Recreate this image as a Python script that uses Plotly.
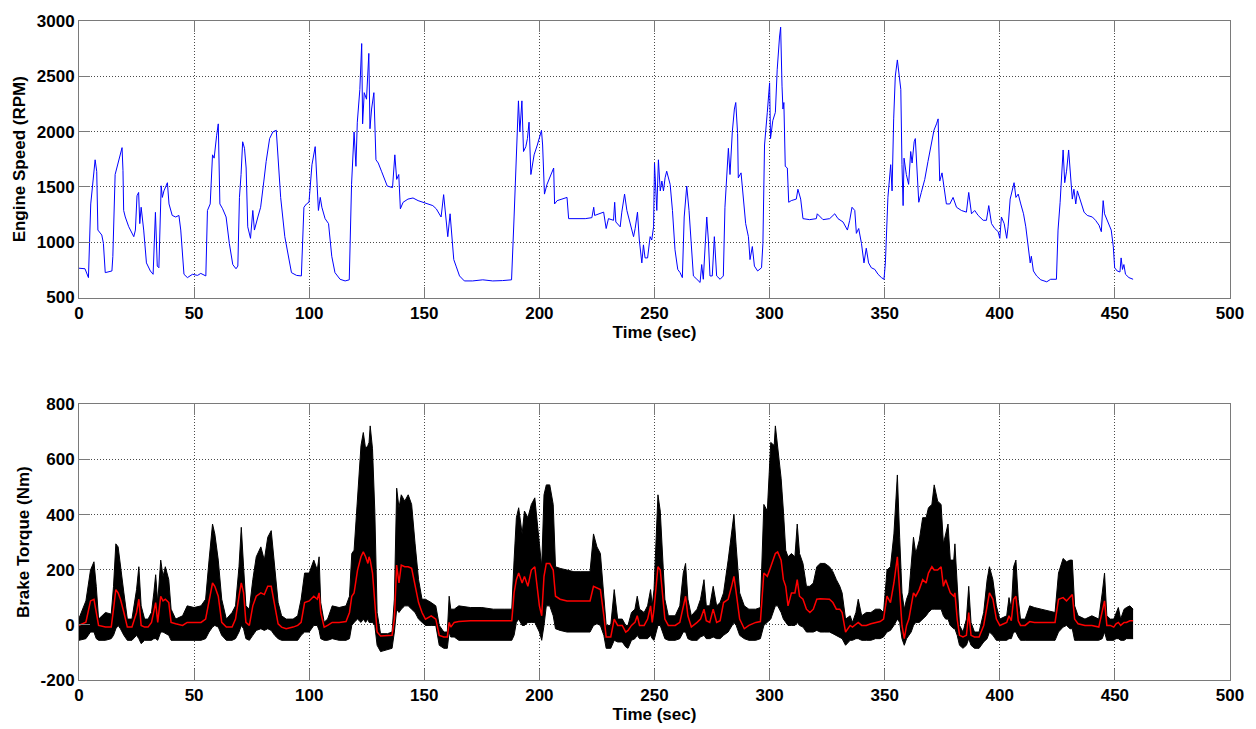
import plotly.graph_objects as go

# ---------------- Engine speed (top) ----------------
speed_t = [0, 2.6, 4.1, 5.1, 7, 7.7, 8.2, 9.9, 10.6, 11.4, 14.3, 14.7, 15.7, 17.2, 18.7, 19.1, 19.4, 20.1, 21.6, 23.8,
           24.5, 25.2, 25.9, 26.4, 27, 28.1, 29.3, 31, 32.2, 33.2, 34, 34.7, 35.7, 36.2, 36.9, 38.4, 39.1, 40.5, 42, 43.4,
           44.2, 45.6, 47.1, 49.3, 51.5, 52.9, 55.1, 55.8, 57, 58, 58.7, 59.8, 60.5, 61.2, 62.4, 63.9, 65.3, 66.8, 68.2, 69,
           69.7, 70.4, 71.1, 71.9, 72.6, 73.3, 74.5, 75.5, 76.2, 77.7, 78.9, 80.3, 81.3, 82.8, 84.2, 85.7, 86.4, 87.6, 89.4, 90.8,
           92.3, 94.5, 96.6, 97.7, 98.8, 99.9, 101.2, 102.6, 103.3, 104, 104.8, 105.5, 106.9, 108.4, 109.8, 111.2, 113.4, 115.6, 117.4, 118.4,
           119.5, 120.3, 120.9, 122, 122.8, 123.2, 123.9, 124.9, 125.9, 126.4, 127.1, 128.1, 129, 130, 131.4, 132.9, 133.9, 136.2, 137.2, 138,
           138.9, 139.6, 140.8, 142.9, 145.1, 147.3, 149.4, 151.6, 153.7, 155.2, 156.3, 157.3, 158.4, 159.2, 160.2, 161.2, 162.1, 162.8, 163.8, 165.3,
           167.4, 171, 175.4, 179.7, 184, 187.9, 189, 190.1, 190.9, 191.5, 192.4, 193.1, 194.1, 194.8, 195.5, 196.3, 197.7, 199.1, 200.9, 201.4,
           202.2, 203.3, 204.8, 206.2, 206.6, 207.7, 209.8, 212, 212.7, 215.6, 219.9, 222.8, 223.6, 224, 226.4, 227.9, 229, 230, 232.2, 232.7,
           233.2, 235.1, 235.8, 237, 238, 239.5, 240.9, 241.6, 242.6, 243.4, 244.5, 245.2, 245.9, 247, 248.1, 248.8, 249.6, 250, 251, 251.7,
           252.5, 253.2, 253.9, 254.6, 255.3, 256.8, 257.8, 258.9, 260.1, 261.1, 262.1, 262.9, 264, 265, 265.9, 266.9, 268.4, 269.8, 270.5, 271.2,
           272.7, 273.4, 274.1, 275.1, 276, 277, 278.5, 279.9, 280.6, 282.1, 282.8, 283.8, 284.7, 285.3, 286.1, 286.4, 287.6, 288.6, 289.6, 290.8,
           291.5, 292.5, 293.4, 294.8, 296.5, 297.1, 297.8, 299, 300, 300.4, 301.4, 302.5, 303.3, 304.3, 304.8, 305.4, 305.8, 306.2, 306.8, 307.7,
           308.3, 309.4, 311.6, 312.3, 313.5, 314.5, 317.4, 320.3, 320.7, 323.2, 326.1, 328.3, 329.7, 331.9, 333.8, 334.8, 335.8, 337, 337.7, 338.7,
           339.9, 341, 342, 343, 344.2, 345.7, 347.1, 348.6, 349.7, 350.3, 351.4, 352.6, 353.2, 353.9, 354.6, 355.5, 356.1, 357, 357.5, 358,
           358.4, 359.4, 360.4, 361.3, 361.9, 362.8, 363.3, 364.2, 364.8, 365.9, 367.4, 368.8, 370.3, 371.4, 372.5, 373.2, 373.9, 374.9, 375.8, 376.8,
           378.3, 379.7, 381.2, 383.3, 385.5, 386.5, 387.7, 389.1, 390.6, 392.8, 394.2, 395.2, 396.4, 397.8, 399.3, 400, 400.7, 401.9, 403, 403.6,
           404.5, 405.5, 406.2, 407, 408, 409.1, 410.3, 411.3, 412.3, 413.2, 413.7, 414.6, 416, 417.8, 420.4, 422.1, 424.6, 425.3, 426.2, 426.7,
           427.5, 428.2, 429, 429.9, 430.5, 431.5, 432.2, 433, 433.7, 435.1, 436.6, 438, 440.2, 441.6, 443.1, 444.1, 444.9, 445.5, 446.4, 447.4,
           448.4, 449.3, 449.9, 451, 452.2, 452.7, 453.3, 453.9, 454.6, 456.1, 457.9]
speed_rpm = [765, 760, 680, 1346, 1745, 1640, 1110, 1065, 990, 725, 740, 870, 1612, 1730, 1855, 1650, 1287, 1228, 1140, 1050,
             1110, 1420, 1450, 1168, 1316, 1110, 813, 740, 710, 1270, 784, 769, 1510, 1405, 1464, 1538, 1346, 1242, 1228, 1242,
             1110, 710, 680, 710, 700, 718, 695, 1287, 1346, 1790, 1760, 1967, 2070, 1346, 1302, 1228, 990, 798, 760, 784,
             1405, 1612, 1908, 1849, 1671, 1139, 1035, 1287, 1110, 1228, 1316, 1553, 1730, 1937, 1997, 2012, 1820, 1405, 1050, 873,
             725, 700, 695, 1316, 1346, 1361, 1700, 1864, 1612, 1287, 1405, 1316, 1213, 1168, 873, 725, 665, 650, 660, 1523,
             1997, 1686, 2085, 2380, 2796, 2070, 2352, 2293, 2707, 2026, 2204, 2352, 1745, 1716, 1642, 1553, 1508, 1494, 1790, 1568,
             1612, 1302, 1361, 1390, 1400, 1376, 1361, 1346, 1331, 1302, 1257, 1228, 1430, 1257, 1050, 1257, 1020, 843, 784, 695,
             650, 650, 660, 650, 653, 660, 1228, 1937, 2278, 1997, 2278, 1820, 1864, 1937, 2085, 1612, 1790, 1879, 2011, 1879,
             1435, 1523, 1597, 1671, 1346, 1376, 1390, 1405, 1213, 1213, 1213, 1222, 1316, 1242, 1257, 1272, 1124, 1213, 1198, 1361,
             1183, 1139, 1272, 1435, 1287, 1168, 1050, 1124, 1272, 1020, 813, 976, 858, 858, 1050, 1020, 1139, 1716, 1287, 1745,
             1464, 1553, 1464, 1582, 1642, 1523, 1287, 932, 754, 725, 680, 1228, 1508, 1287, 1035, 695, 665, 636, 798, 665,
             1228, 1020, 695, 695, 1050, 695, 665, 695, 1316, 1849, 1612, 1997, 2204, 2263, 1982, 1582, 1627, 1405, 1168, 1050,
             843, 961, 784, 740, 769, 990, 1879, 2174, 2441, 1937, 2100, 2174, 2559, 2855, 2944, 2411, 2204, 2263, 1686, 1671,
             1361, 1376, 1390, 1479, 1390, 1213, 1204, 1213, 1257, 1204, 1213, 1257, 1213, 1183, 1110, 1198, 1316, 1287, 1080, 1124,
             990, 813, 946, 813, 769, 754, 710, 680, 665, 813, 1405, 1701, 1464, 2115, 2500, 2648, 2530, 2382, 1701, 1331,
             1760, 1612, 1523, 1820, 1716, 1908, 1937, 1523, 1361, 1450, 1568, 1730, 1879, 2012, 2070, 2115, 1553, 1627, 1494, 1346,
             1346, 1405, 1316, 1287, 1272, 1450, 1257, 1287, 1242, 1198, 1198, 1331, 1168, 1124, 1095, 1035, 1228, 1168, 1035, 1139,
             1390, 1464, 1538, 1405, 1435, 1346, 1257, 1139, 961, 813, 873, 740, 695, 660, 642, 665, 665, 1110, 1361, 1553,
             1834, 1538, 1642, 1834, 1671, 1390, 1479, 1346, 1464, 1376, 1272, 1242, 1228, 1198, 1154, 1095, 1376, 1257, 1213, 1168,
             1110, 961, 769, 740, 731, 858, 754, 798, 710, 680, 665]

# ---------------- Brake torque (bottom) ----------------
torque_t = [0, 3, 5, 6.5, 7.5, 8.5, 11.5, 14, 15, 16, 17, 18, 19.5, 21, 23, 25, 26, 27, 28.5, 30,
            31.5, 32.5, 33.3, 34.2, 35.5, 36.5, 37.5, 39, 40, 42, 45, 47, 50, 53, 55, 56.5, 58, 59, 60.5, 62,
            64, 66.5, 68, 69.5, 70.5, 71.5, 72.5, 74, 75.5, 77, 79, 80.5, 82, 83.5, 85, 86.5, 88, 90, 93, 95,
            96.5, 98, 100, 102, 103.5, 104.3, 105, 106.5, 108, 110, 113, 116, 117.5, 118.5, 119.5, 121, 122.5, 123.5, 124.5, 125.5,
            126, 126.5, 127.5, 128.5, 129.5, 131, 134, 136, 137, 138, 139, 140, 141.5, 143, 144.5, 146, 147.5, 149, 150.5, 153,
            155, 156.5, 158.5, 160, 160.8, 161.5, 163, 165, 170, 175, 180, 185, 188, 189, 190, 191, 192.5, 193.5, 195, 196.5,
            198, 200, 201, 202, 203, 204.5, 206, 207, 209, 212, 215, 218, 222, 223.5, 225, 226.5, 228, 229, 231, 232.5,
            234, 236, 237.5, 238.5, 240, 241.5, 242.5, 243.5, 245.5, 247, 248.3, 249, 249.8, 251.5, 252.5, 253.5, 254.5, 256, 259, 261,
            262.5, 263.5, 264.5, 266, 268.5, 270, 271.5, 272.5, 274, 275.5, 277, 278.5, 280, 282, 283.5, 284.5, 285.5, 287, 289, 291,
            294, 296, 297.5, 299, 300.5, 302, 302.5, 303.5, 305, 306, 307, 308, 309.5, 311, 312, 313, 314.5, 316, 317.5, 319,
            320.5, 322, 324, 326, 327.5, 329, 330.5, 331.5, 333, 335, 336, 337.5, 338.5, 340, 342, 344, 346, 348, 349.5, 351,
            352.5, 354, 355.5, 356.5, 357.5, 358.5, 359.5, 360.5, 361.5, 362.5, 363.5, 365, 366.5, 368, 369, 370.5, 371.5, 373, 374.5, 375.5,
            376.5, 377.5, 378.5, 380, 380.5, 381.5, 382.5, 384, 385.5, 386.5, 387.5, 389, 391, 393, 394.5, 395.5, 397, 398.5, 400, 403,
            404, 405, 406, 407, 408, 409, 411, 413, 415, 418, 421, 424, 425.5, 427.5, 429, 430.5, 431.5, 432.5, 434, 437,
            440, 443, 444.5, 445.5, 446.5, 448, 449.5, 450.5, 451.5, 452.5, 454, 455, 456.5, 457.9]
torque_hi = [24, 87, 199, 229, 140, 21, 45, 39, 140, 294, 283, 211, 116, 21, 21, 128, 211, 69, 21, 21,
             45, 116, 182, 81, 235, 176, 211, 164, 57, 21, 33, 69, 63, 69, 93, 235, 366, 330, 235, 93,
             21, 45, 69, 211, 354, 211, 69, 57, 164, 247, 283, 235, 318, 342, 199, 81, 33, 21, 21, 33,
             93, 188, 188, 235, 199, 247, 81, 10, 21, 69, 63, 69, 104, 259, 271, 472, 651, 698, 639, 651,
             662, 722, 639, 413, 45, -32, -32, -26, 93, 496, 425, 472, 449, 472, 437, 294, 164, 93, 93, 81,
             69, -2, -26, -26, 104, 57, 57, 69, 63, 63, 57, 57, 57, 235, 389, 425, 330, 413, 389, 437,
             461, 294, 211, 472, 508, 508, 437, 211, 205, 199, 193, 193, 193, 330, 283, 259, 116, -2, -2, 128,
             21, 21, -2, -2, 45, 57, 104, 57, 45, 69, 128, 69, 128, 472, 413, 235, 93, 33, 33, 69,
             188, 223, 93, 33, 57, 93, 164, 69, 69, 140, 69, 81, 116, 235, 330, 401, 283, 116, 69, 57,
             57, 63, 437, 413, 662, 651, 722, 639, 532, 413, 271, 247, 259, 247, 366, 259, 223, 140, 140, 152,
             211, 223, 223, 211, 193, 164, 140, 116, 21, 33, 9, 45, 93, 33, 45, 45, 57, 57, 45, 199,
             211, 330, 544, 318, 116, 57, 93, 116, 235, 318, 259, 306, 389, 389, 425, 437, 508, 449, 437, 294,
             330, 366, 235, 235, 294, 164, -2, -26, 21, 140, 9, -26, -26, 45, 164, 211, 164, 69, 21, 33,
             99, 57, 211, 235, 93, 21, 21, 69, 63, 57, 51, 45, 188, 241, 229, 235, 235, 69, 33, 21,
             33, 21, 116, 188, 33, 21, 21, 45, 63, 21, 57, 63, 69, 57]
torque_lo = [-56, -50, -26, -26, -50, -56, -56, -50, -38, -14, -2, -14, -38, -56, -56, -38, -50, -68, -56, -56,
             -56, -50, -50, -56, -26, -26, -32, -38, -56, -56, -56, -56, -56, -56, -50, -26, -8, -2, -8, -38,
             -56, -56, -50, -26, -2, -14, -50, -56, -38, -20, -14, -20, -14, -20, -38, -50, -56, -56, -56, -56,
             -38, -26, -26, -2, -2, -20, -50, -56, -56, -50, -56, -56, -50, -2, 9, 21, 9, 21, 9, 21,
             9, 9, 9, -2, -74, -97, -91, -85, -26, 57, 45, 57, 69, 69, 57, 45, 21, 9, -2, -2,
             -2, -74, -85, -85, -26, -44, -44, -56, -56, -56, -56, -56, -56, -38, 9, 21, -2, -2, 9, 9,
             9, -26, -56, -2, 69, 69, 33, -14, -20, -26, -26, -26, -26, -2, 4, -2, -38, -85, -85, -56,
             -62, -62, -80, -85, -56, -50, -38, -50, -50, -50, -38, -50, -56, -2, -2, -26, -50, -56, -56, -50,
             -26, -26, -50, -56, -56, -44, -38, -50, -50, -44, -50, -50, -38, -26, -2, 9, -2, -38, -50, -56,
             -56, -50, -2, 9, 21, 57, 69, 69, 45, 21, 9, -2, -2, -2, 9, -2, -8, -26, -26, -26,
             -20, -26, -26, -26, -32, -38, -44, -50, -74, -56, -56, -50, -50, -56, -56, -56, -50, -50, -44, -26,
             -20, -2, 21, 9, -50, -74, -50, -38, -26, -2, 9, 9, 21, 33, 45, 57, 57, 57, 57, 33,
             21, 21, -2, -14, -14, -38, -74, -85, -74, -50, -74, -85, -85, -62, -50, -26, -38, -56, -56, -56,
             -50, -50, -26, -26, -44, -56, -56, -56, -56, -56, -56, -56, -26, -8, -2, -14, -14, -56, -56, -56,
             -56, -56, -50, -26, -56, -56, -56, -50, -50, -56, -56, -50, -50, -50]
torque_mean = [-2, 10, 87, 93, 45, -2, -8, -8, 57, 128, 116, 93, 45, -8, -8, 45, 93, -2, -8, -8,
               9, 45, 81, 9, 104, 87, 93, 81, 9, 4, -2, 9, 9, 9, 21, 93, 152, 140, 104, 9,
               -8, -8, 21, 104, 152, 116, 9, -2, 69, 104, 116, 110, 140, 140, 69, 4, -8, -14, -8, -2,
               9, 81, 87, 104, 93, 116, 45, -8, -2, 9, 9, 12, 45, 104, 116, 199, 247, 265, 247, 223,
               247, 235, 188, 69, -26, -40, -40, -38, 21, 217, 152, 217, 211, 211, 205, 140, 81, 45, 21, 33,
               21, -38, -44, -44, 9, -8, 9, 12, 15, 15, 15, 15, 15, 116, 164, 188, 152, 176, 140, 199,
               211, 69, 33, 176, 223, 223, 199, 104, 93, 87, 87, 87, 87, 140, 134, 128, 33, -44, -44, 21,
               -2, -2, -26, -20, -2, 9, 33, -2, -2, 21, 69, 9, 57, 211, 199, 93, 21, -2, -2, 9,
               69, 104, 33, -8, 9, 21, 57, 15, 9, 57, 9, 15, 81, 93, 140, 176, 116, 21, -14, -2,
               9, 12, 188, 176, 211, 247, 259, 265, 235, 164, 140, 69, 116, 116, 164, 104, 93, 57, 45, 57,
               93, 95, 95, 93, 81, 57, 57, 45, -26, -2, -8, 4, 9, -2, -2, 4, 9, 12, 21, 104,
               81, 152, 247, 116, -2, -50, -2, 21, 69, 116, 104, 128, 164, 152, 188, 211, 199, 199, 211, 140,
               164, 140, 116, 104, 116, 21, -38, -44, -38, 45, -38, -44, -44, -2, 69, 116, 93, 21, -2, 9,
               33, 15, 93, 104, 15, -2, -2, 12, 9, 9, 9, 9, 93, 99, 87, 99, 110, 21, 4, -2,
               -2, -8, 45, 87, -2, -2, -8, 4, 9, -2, 9, 9, 15, 15]

x_ticks = [0, 50, 100, 150, 200, 250, 300, 350, 400, 450, 500]
speed_ticks = [500, 1000, 1500, 2000, 2500, 3000]
torque_ticks = [-200, 0, 200, 400, 600, 800]
torque_tick_text = ["-200", "0", "200", "400", "600", "800"]

FONT = "Liberation Sans"
tick_font = dict(family=FONT, size=17, color="black", weight="bold")
title_font = dict(family=FONT, size=17, color="black", weight="bold")

fig = go.Figure()

fig.add_trace(go.Scatter(x=speed_t, y=speed_rpm, mode="lines",
                         line=dict(color="#0000FF", width=1), xaxis="x", yaxis="y",
                         showlegend=False, hoverinfo="skip"))

fig.add_trace(go.Scatter(x=torque_t, y=torque_lo, mode="lines",
                         line=dict(color="black", width=1), xaxis="x2", yaxis="y2",
                         showlegend=False, hoverinfo="skip"))
fig.add_trace(go.Scatter(x=torque_t, y=torque_hi, mode="lines", fill="tonexty",
                         fillcolor="black", line=dict(color="black", width=1),
                         xaxis="x2", yaxis="y2", showlegend=False, hoverinfo="skip"))
fig.add_trace(go.Scatter(x=torque_t, y=torque_mean, mode="lines",
                         line=dict(color="#FF0000", width=1.5), xaxis="x2", yaxis="y2",
                         showlegend=False, hoverinfo="skip"))

common_axis = dict(showline=True, linecolor="#7a7a7a", linewidth=1, mirror="ticks",
                   ticks="inside", ticklen=11, tickcolor="#7a7a7a", tickwidth=1,
                   showgrid=True, gridcolor="#4a4a4a", griddash="1px,2px", gridwidth=1,
                   zeroline=False, tickfont=tick_font)

fig.update_layout(
    width=1256, height=729,
    margin=dict(l=79, r=23, t=12, b=45, pad=0),
    paper_bgcolor="white", plot_bgcolor="white",
    xaxis=dict(domain=[0, 1], range=[0, 500], tickvals=x_ticks, anchor="y",
               title=dict(text="Time (sec)", font=title_font, standoff=0), **common_axis),
    yaxis=dict(domain=[0.5804, 1.0], range=[500, 3000], tickvals=speed_ticks, anchor="x",
               title=dict(text="Engine Speed (RPM)", font=title_font, standoff=6), **common_axis),
    xaxis2=dict(domain=[0, 1], range=[0, 500], tickvals=x_ticks, anchor="y2",
                title=dict(text="Time (sec)", font=title_font, standoff=0), **common_axis),
    yaxis2=dict(domain=[0.0, 0.4182], range=[-200, 800], tickvals=torque_ticks,
                ticktext=torque_tick_text, anchor="x2",
                title=dict(text="Brake Torque (Nm)", font=title_font, standoff=6), **common_axis),
)

fig.write_html("out.html")
